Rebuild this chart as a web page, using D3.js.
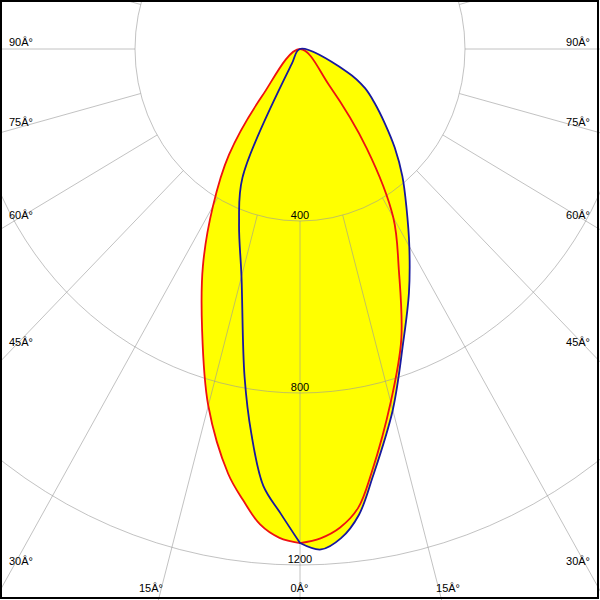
<!DOCTYPE html>
<html>
<head>
<meta charset="utf-8">
<script src="https://cdn.jsdelivr.net/npm/d3@7"></script>
<style>
  html, body { margin: 0; padding: 0; background: #fff; }
  svg { display: block; }
  text { font-family: "Liberation Sans", Arial, sans-serif; font-size: 11px; fill: #000; }
</style>
</head>
<body>
<svg id="chart" width="600" height="600"></svg>
<script>
// gamma angles (degrees from nadir)
const gammaDeg = [0, 2.5, 5, 7.5, 10, 15, 20, 25, 30, 35, 40, 45, 50, 55, 60, 65, 70, 75, 80, 85, 90,
  95, 100, 105, 110, 115, 120, 125, 130, 135, 140, 145, 150, 155, 160, 165, 170, 175, 180];
// red plane, right half
const redRight = [1149, 1139, 1117, 1077, 1000, 850, 718, 567, 452, 282, 110, 0, 0, 0, 0, 0, 0, 0, 0, 0, 0,
  0, 0, 0, 0, 0, 0, 0, 0, 0, 0, 0, 0, 0, 0, 0, 0, 0, 0];
// red plane, left half
const redLeft = [1149, 1138, 1110, 1058, 1003, 859, 694, 557, 422, 300, 143, 0, 0, 0, 0, 0, 0, 0, 0, 0, 0,
  0, 0, 0, 0, 0, 0, 0, 0, 0, 0, 0, 0, 0, 0, 0, 0, 0, 0];
// blue plane, right half
const blueRight = [1149, 1165, 1142, 1093, 1012, 869, 730, 625, 530, 450, 386, 325, 268, 222, 182, 126, 0, 0, 0, 0, 0,
  0, 0, 0, 0, 0, 0, 0, 0, 0, 0, 0, 0, 0, 0, 0, 0, 0, 0];
// blue plane, left half
const blueLeft = [1149, 1081, 1020, 903, 774, 548, 432, 330, 40, 0, 0, 0, 0, 0, 0, 0, 0, 0, 0, 0, 0,
  0, 0, 0, 0, 0, 0, 0, 0, 0, 0, 0, 0, 0, 0, 0, 0, 0, 0];

const ringValues = [400, 800, 1200];
const ringLabels = ["400", "800", "1200"];
const spokeAngles = [0, 15, 30, 45, 60, 75, 90, 105, 120, 135, 150, 165, 180];
const angleLabelAngles = [0, 15, 30, 45, 60, 75, 90];
const angleLabels = ["0Â°", "15Â°", "30Â°", "45Â°", "60Â°", "75Â°", "90Â°"];

const W = 600, H = 600;
const cx = 300, cy = 49;
const rX = d3.scaleLinear().domain([0, 1200]).range([0, 495]);
const rY = d3.scaleLinear().domain([0, 1200]).range([0, 516]);
const rad = d => d * Math.PI / 180;
function pt(g, I, side) {
  return [cx + side * rX(I) * Math.sin(rad(g)), cy + rY(I) * Math.cos(rad(g))];
}

const svg = d3.select("#chart");
svg.append("rect").attr("width", W).attr("height", H).attr("fill", "#fff");
svg.append("defs").append("clipPath").attr("id", "clip")
  .append("rect").attr("x", 0).attr("y", 0).attr("width", W).attr("height", H);
const g = svg.append("g").attr("clip-path", "url(#clip)");

function curvePoints(right, left) {
  const pts = [];
  gammaDeg.forEach((a, i) => pts.push(pt(a, right[i], 1)));
  for (let i = gammaDeg.length - 1; i >= 0; i--) pts.push(pt(gammaDeg[i], left[i], -1));
  // drop consecutive duplicate points (the zero-intensity tail collapses onto the centre)
  return pts.filter((p, i) => i === 0 || Math.hypot(p[0] - pts[i - 1][0], p[1] - pts[i - 1][1]) > 0.01);
}
const line = d3.line().curve(d3.curveCatmullRomClosed.alpha(0.5));
const redPts = curvePoints(redRight, redLeft);
const bluePts = curvePoints(blueRight, blueLeft);

// yellow fills
g.append("path").attr("d", line(redPts)).attr("fill", "#ffff00").attr("stroke", "none");
g.append("path").attr("d", line(bluePts)).attr("fill", "#ffff00").attr("stroke", "none");

// grid
const grid = g.append("g").attr("stroke", "#999").attr("stroke-opacity", 0.6).attr("fill", "none").attr("stroke-width", 1);
ringValues.forEach(v => {
  grid.append("ellipse").attr("cx", cx).attr("cy", cy).attr("rx", rX(v)).attr("ry", rY(v));
});
spokeAngles.forEach(a => {
  const sides = (a === 0 || a === 180) ? [1] : [1, -1];
  sides.forEach(s => {
    const p0 = pt(a, ringValues[0], s), p1 = pt(a, 4000, s);
    grid.append("line").attr("x1", p0[0]).attr("y1", p0[1]).attr("x2", p1[0]).attr("y2", p1[1]);
  });
});

// curves
g.append("path").attr("d", line(redPts)).attr("fill", "none").attr("stroke", "#ee1111").attr("stroke-width", 1.8).attr("stroke-linejoin", "round");
g.append("path").attr("d", line(bluePts)).attr("fill", "none").attr("stroke", "#1818a0").attr("stroke-width", 1.8).attr("stroke-linejoin", "round");

// ring labels
ringValues.forEach((v, i) => {
  svg.append("text").attr("x", cx).attr("y", cy + rY(v) - 2.5).attr("text-anchor", "middle").text(ringLabels[i]);
});

// angle labels
const kyx = 516 / 495;
angleLabelAngles.forEach((a, i) => {
  const s = Math.sin(rad(a)), c = Math.cos(rad(a));
  const edgeX = 288; // horizontal distance from centre to label anchor
  const ySide = s > 0 ? cy + edgeX / s * kyx * c : Infinity;
  if (ySide < 590) {
    const yb = ySide - 3.5;
    svg.append("text").attr("x", 9).attr("y", yb).attr("text-anchor", "start").text(angleLabels[i]);
    svg.append("text").attr("x", 590).attr("y", yb).attr("text-anchor", "end").text(angleLabels[i]);
  } else {
    const dx = (588 - cy) / kyx * Math.tan(rad(a));
    if (a === 0) {
      svg.append("text").attr("x", cx - 0.5).attr("y", 592).attr("text-anchor", "middle").text(angleLabels[i]);
    } else {
      svg.append("text").attr("x", cx - dx + 1.5).attr("y", 592).attr("text-anchor", "end").text(angleLabels[i]);
      svg.append("text").attr("x", cx + dx - 2.5).attr("y", 592).attr("text-anchor", "start").text(angleLabels[i]);
    }
  }
});

// frame
svg.append("rect").attr("x", 1).attr("y", 1).attr("width", 597).attr("height", 597)
  .attr("fill", "none").attr("stroke", "#000").attr("stroke-width", 2);
</script>
</body>
</html>
